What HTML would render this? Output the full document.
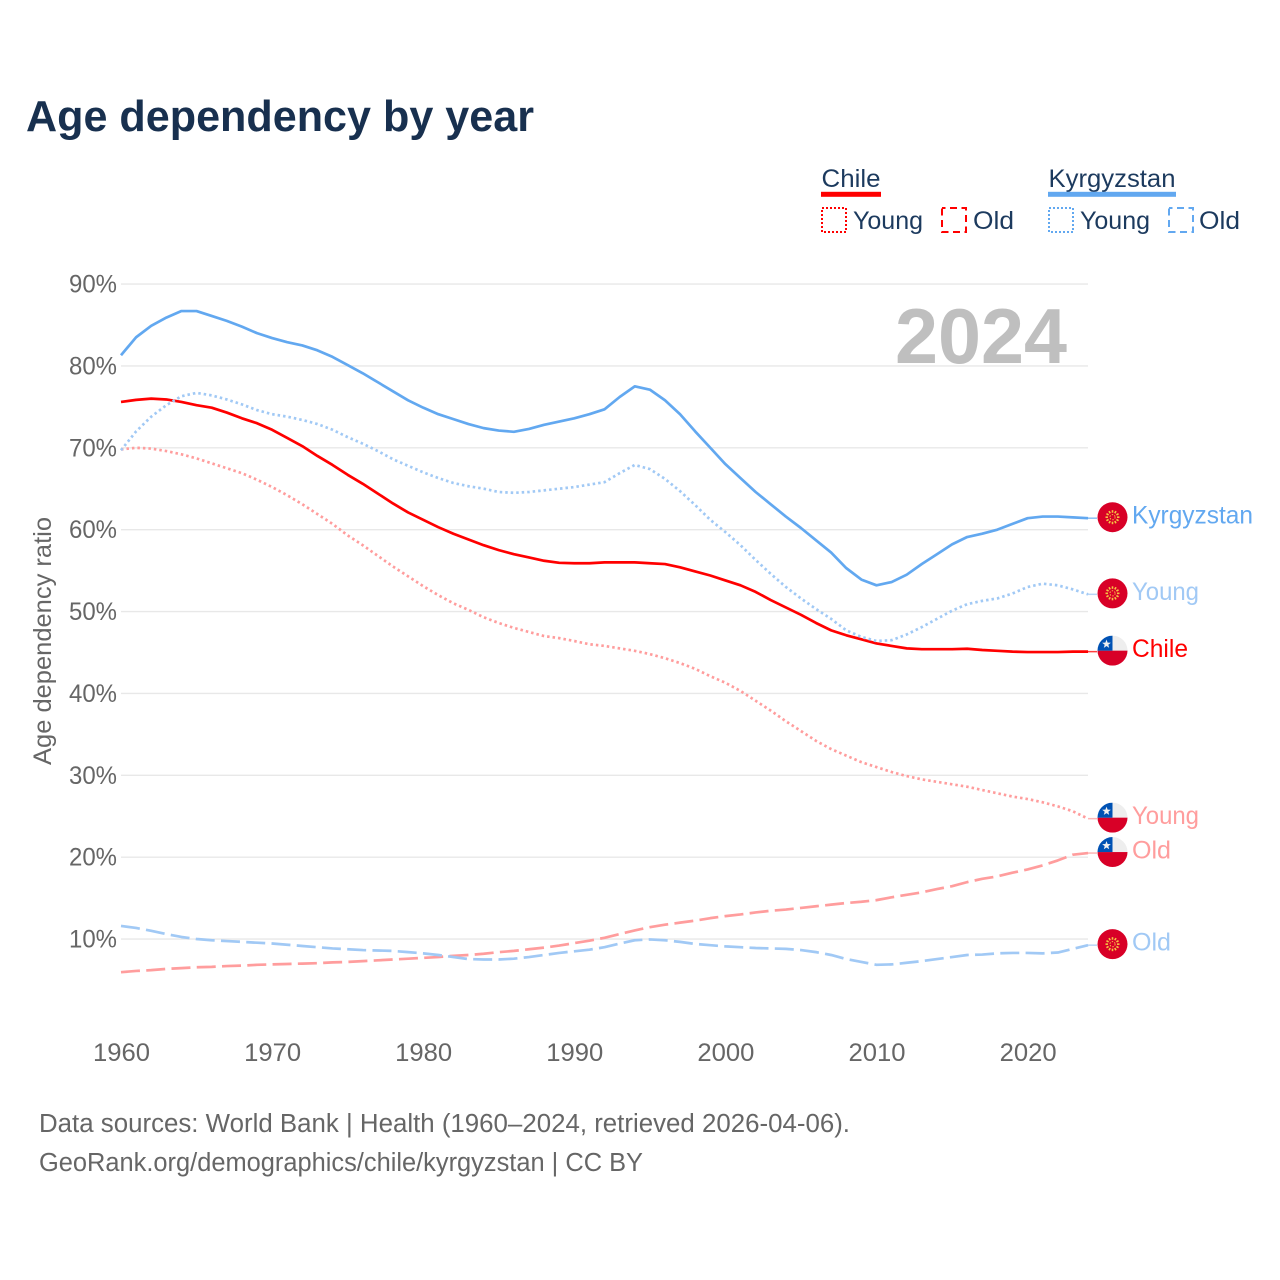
<!DOCTYPE html>
<html lang="en">
<head>
<meta charset="utf-8">
<title>Age dependency by year</title>
<style>
html,body{margin:0;padding:0;background:#fff;}
body{width:1280px;height:1280px;overflow:hidden;}
svg{display:block;font-family:"Liberation Sans",sans-serif;}
</style>
</head>
<body>
<svg id="chart" xmlns="http://www.w3.org/2000/svg" width="1280" height="1280" viewBox="0 0 1280 1280">
  <text x="26" y="131" font-size="44" font-weight="700" fill="#18304f" textLength="508" lengthAdjust="spacingAndGlyphs">Age dependency by year</text>
  <g id="grid"></g>
  <text x="895" y="363" font-size="78" font-weight="700" fill="#bfbfbf" textLength="172" lengthAdjust="spacingAndGlyphs">2024</text>
  <g id="yticks" font-size="25" fill="#666"></g>
  <g id="xticks" font-size="25" fill="#666"></g>
  <text transform="translate(51,641) rotate(-90)" text-anchor="middle" font-size="25" fill="#666" textLength="248" lengthAdjust="spacingAndGlyphs">Age dependency ratio</text>
  <g id="series" fill="none"></g>
  <g id="ends"></g>

  <g font-size="25" fill="#1c3a5e">
    <g>
      <text x="821.5" y="187" textLength="59" lengthAdjust="spacingAndGlyphs">Chile</text>
      <rect x="821" y="191.8" width="60" height="5" fill="#ff0000"/>
    </g>
    <g>
      <rect x="822" y="208" width="24" height="24" fill="none" stroke="#ff0000" stroke-width="2" stroke-dasharray="2 2"/>
      <text x="853" y="229" textLength="70" lengthAdjust="spacingAndGlyphs">Young</text>
    </g>
    <g>
      <rect x="942" y="208" width="24" height="24" fill="none" stroke="#ff0000" stroke-width="2" stroke-dasharray="7 4.5" stroke-dashoffset="3.5"/>
      <text x="973" y="229" textLength="41" lengthAdjust="spacingAndGlyphs">Old</text>
    </g>
    <g>
      <text x="1048.5" y="187" textLength="127" lengthAdjust="spacingAndGlyphs">Kyrgyzstan</text>
      <rect x="1048" y="191.8" width="128" height="5" fill="#62a8f0"/>
    </g>
    <g>
      <rect x="1049" y="208" width="24" height="24" fill="none" stroke="#62a8f0" stroke-width="2" stroke-dasharray="2 2"/>
      <text x="1080" y="229" textLength="70" lengthAdjust="spacingAndGlyphs">Young</text>
    </g>
    <g>
      <rect x="1169" y="208" width="24" height="24" fill="none" stroke="#62a8f0" stroke-width="2" stroke-dasharray="7 4.5" stroke-dashoffset="3.5"/>
      <text x="1199" y="229" textLength="41" lengthAdjust="spacingAndGlyphs">Old</text>
    </g>
  </g>

  <text x="39" y="1132" font-size="25.5" fill="#666" textLength="811" lengthAdjust="spacingAndGlyphs">Data sources: World Bank | Health (1960–2024, retrieved 2026-04-06).</text>
  <text x="39" y="1171" font-size="25.5" fill="#666" textLength="604" lengthAdjust="spacingAndGlyphs">GeoRank.org/demographics/chile/kyrgyzstan | CC BY</text>
</svg>
<script>
const firstYear = 1960;
const xTickYears = [1960, 1970, 1980, 1990, 2000, 2010, 2020];
const yTickValues = [10, 20, 30, 40, 50, 60, 70, 80, 90];

const chileTotal = [75.6,75.85,76,75.9,75.6,75.2,74.9,74.3,73.6,73,72.2,71.2,70.2,69,67.9,66.7,65.6,64.4,63.2,62.1,61.2,60.3,59.5,58.8,58.1,57.5,57,56.6,56.2,55.95,55.9,55.9,56,56,56,55.9,55.8,55.4,54.9,54.4,53.8,53.2,52.4,51.4,50.5,49.6,48.6,47.7,47.1,46.6,46.1,45.8,45.5,45.4,45.4,45.4,45.45,45.3,45.2,45.1,45.05,45.05,45.05,45.1,45.1];
const chileYoung = [69.8,70,69.9,69.6,69.2,68.7,68.1,67.5,66.9,66.1,65.2,64.2,63.1,61.9,60.7,59.3,58.1,56.8,55.5,54.3,53.1,52,51,50.2,49.3,48.6,48,47.5,47,46.75,46.4,46,45.8,45.5,45.2,44.8,44.3,43.7,43,42.1,41.3,40.3,39.1,37.9,36.6,35.4,34.2,33.2,32.4,31.6,31,30.4,29.9,29.5,29.2,28.9,28.6,28.2,27.8,27.4,27.1,26.7,26.2,25.6,24.7];
const chileOld = [5.95,6.1,6.2,6.35,6.45,6.55,6.6,6.7,6.75,6.85,6.9,6.95,7,7.05,7.15,7.2,7.3,7.4,7.5,7.6,7.7,7.8,7.95,8.05,8.2,8.4,8.55,8.75,8.95,9.2,9.5,9.8,10.15,10.6,11.05,11.45,11.75,12,12.25,12.55,12.8,13,13.25,13.45,13.6,13.8,14,14.2,14.4,14.55,14.75,15.1,15.4,15.7,16.1,16.45,16.95,17.35,17.65,18.1,18.5,19,19.6,20.3,20.5];
const kgzTotal = [81.3,83.5,84.9,85.9,86.7,86.7,86.1,85.5,84.8,84,83.4,82.9,82.5,81.9,81.1,80.1,79.1,78,76.9,75.8,74.9,74.1,73.5,72.9,72.4,72.1,71.95,72.3,72.8,73.2,73.6,74.1,74.7,76.2,77.5,77.1,75.8,74.1,72,70,68,66.3,64.6,63.1,61.6,60.2,58.7,57.2,55.3,53.9,53.2,53.6,54.5,55.8,57,58.2,59.1,59.5,60,60.7,61.4,61.6,61.6,61.5,61.4];
const kgzYoung = [69.7,72,73.8,75.2,76.3,76.7,76.4,75.9,75.3,74.6,74.1,73.8,73.4,72.9,72.2,71.3,70.5,69.6,68.6,67.8,67,66.3,65.7,65.3,65,64.6,64.5,64.6,64.8,65,65.2,65.5,65.8,66.9,67.9,67.4,66.2,64.7,63,61.2,59.7,58.1,56.3,54.6,53,51.6,50.3,49.1,47.7,46.9,46.4,46.5,47.2,48.1,49.1,50.1,50.9,51.3,51.6,52.2,53,53.4,53.2,52.7,52.1];
const kgzOld = [11.6,11.35,11,10.6,10.25,10,9.85,9.75,9.65,9.55,9.45,9.3,9.15,9,8.85,8.75,8.65,8.6,8.55,8.4,8.25,8.05,7.8,7.55,7.5,7.5,7.6,7.8,8.05,8.3,8.5,8.7,9,9.45,9.85,9.95,9.85,9.65,9.4,9.25,9.1,9,8.9,8.85,8.8,8.65,8.4,8.05,7.55,7.2,6.85,6.9,7.1,7.3,7.55,7.8,8.05,8.1,8.25,8.3,8.3,8.25,8.35,8.8,9.25];

const NS = 'http://www.w3.org/2000/svg';
function xScale(year) { return 121 + (year - 1960) * 15.11; }
function yScale(v) { return 1020.9 - v * 8.1875; }
function make(tag, attrs, parent) {
  const el = document.createElementNS(NS, tag);
  for (const k in attrs) el.setAttribute(k, attrs[k]);
  parent.appendChild(el);
  return el;
}

const grid = document.getElementById('grid');
const yticks = document.getElementById('yticks');
const xticks = document.getElementById('xticks');
const seriesLayer = document.getElementById('series');
const endsLayer = document.getElementById('ends');

yTickValues.forEach(function (v) {
  const line = make('line', {x1: 121, x2: 1088, y1: yScale(v), y2: yScale(v), stroke: '#e8e8e8', 'stroke-width': 1.4}, grid);
  
  
  const t = make('text', {x: 117, y: yScale(v) + 8.5, 'text-anchor': 'end', textLength: 48, lengthAdjust: 'spacingAndGlyphs'}, yticks);
  t.textContent = v + '%';
  
  
});

xTickYears.forEach(function (year) {
  const t = make('text', {x: xScale(year) + 0.5, y: 1061, 'text-anchor': 'middle', textLength: 57, lengthAdjust: 'spacingAndGlyphs'}, xticks);
  t.textContent = String(year);
  
  
});

function drawLine(values, name, color, width, dash) {
  const pts = values.map(function (v, i) { return xScale(firstYear + i).toFixed(2) + ',' + yScale(v).toFixed(2); }).join(' ');
  const line = make('polyline', {points: pts, stroke: color, 'stroke-width': width, 'stroke-linejoin': 'round'}, seriesLayer);
  if (dash) line.setAttribute('stroke-dasharray', dash);
  
  
}

const RED = '#ff0000', BLUE = '#62a8f0', LRED = '#ff9d9d', LBLUE = '#a1c9f5';
drawLine(chileYoung, 'line-chile-young', LRED, 2.7, '2.5 3');
drawLine(chileOld, 'line-chile-old', LRED, 2.7, '19 6.3');
drawLine(chileTotal, 'line-chile-total', RED, 2.7, '');
drawLine(kgzYoung, 'line-kyrgyzstan-young', LBLUE, 2.7, '2.5 3');
drawLine(kgzOld, 'line-kyrgyzstan-old', LBLUE, 2.7, '19 6.3');
drawLine(kgzTotal, 'line-kyrgyzstan-total', BLUE, 2.7, '');

let clipCount = 0;
function drawFlag(kind, cx, cy, parent) {
  const g = make('g', {}, parent);
  
  
  const r = 15;
  if (kind === 'chile') {
    clipCount++;
    const cp = make('clipPath', {id: 'flag-clip-' + clipCount}, g);
    make('circle', {cx: cx, cy: cy, r: r}, cp);
    const inner = make('g', {'clip-path': 'url(#flag-clip-' + clipCount + ')'}, g);
    make('rect', {x: cx - r, y: cy - r, width: 2 * r, height: 2 * r, fill: '#eeeeee'}, inner);
    make('rect', {x: cx - r, y: cy, width: 2 * r, height: r, fill: '#d80027'}, inner);
    make('rect', {x: cx - r, y: cy - r, width: r, height: r, fill: '#0052b4'}, inner);
    const s = [];
    for (let i = 0; i < 10; i++) {
      const a = -Math.PI / 2 + i * Math.PI / 5, rr = i % 2 ? 1.9 : 4.6;
      s.push((cx - 6 + rr * Math.cos(a)).toFixed(2) + ',' + (cy - 6.5 + rr * Math.sin(a)).toFixed(2));
    }
    make('polygon', {points: s.join(' '), fill: '#f0f0f0'}, inner);
  } else {
    make('circle', {cx: cx, cy: cy, r: r, fill: '#d80027'}, g);
    for (let i = 0; i < 12; i++) {
      const a = i * Math.PI / 6;
      make('line', {
        x1: cx + 4.5 * Math.cos(a), y1: cy + 4.5 * Math.sin(a),
        x2: cx + 7 * Math.cos(a), y2: cy + 7 * Math.sin(a),
        stroke: '#f5c542', 'stroke-width': 1.6
      }, g);
    }
    make('circle', {cx: cx, cy: cy, r: 2.6, fill: 'none', stroke: '#f5c542', 'stroke-width': 1, 'stroke-dasharray': '1.4 1.4'}, g);
  }
}

function drawEnd(values, kind, name, label, color, labelWidth, lineColor) {
  const last = values[values.length - 1];
  const ly = yScale(last);
  const fy = ly - 1;
  const conn = make('line', {x1: 1088, x2: 1097, y1: ly, y2: ly, stroke: lineColor, 'stroke-width': 1.5, opacity: 0.75}, endsLayer);
  
  
  drawFlag(kind, 1112.5, fy, endsLayer);
  const t = make('text', {x: 1132, y: fy + 6.5, 'font-size': 25, fill: color, textLength: labelWidth, lengthAdjust: 'spacingAndGlyphs'}, endsLayer);
  t.textContent = label;
  
  
}

drawEnd(kgzTotal, 'kyrgyzstan', 'end-kyrgyzstan-total', 'Kyrgyzstan', BLUE, 121, BLUE);
drawEnd(kgzYoung, 'kyrgyzstan', 'end-kyrgyzstan-young', 'Young', LBLUE, 67, LBLUE);
drawEnd(chileTotal, 'chile', 'end-chile-total', 'Chile', RED, 56, RED);
drawEnd(chileYoung, 'chile', 'end-chile-young', 'Young', LRED, 67, LRED);
drawEnd(chileOld, 'chile', 'end-chile-old', 'Old', LRED, 39, LRED);
drawEnd(kgzOld, 'kyrgyzstan', 'end-kyrgyzstan-old', 'Old', LBLUE, 39, LBLUE);
</script>
</body>
</html>
